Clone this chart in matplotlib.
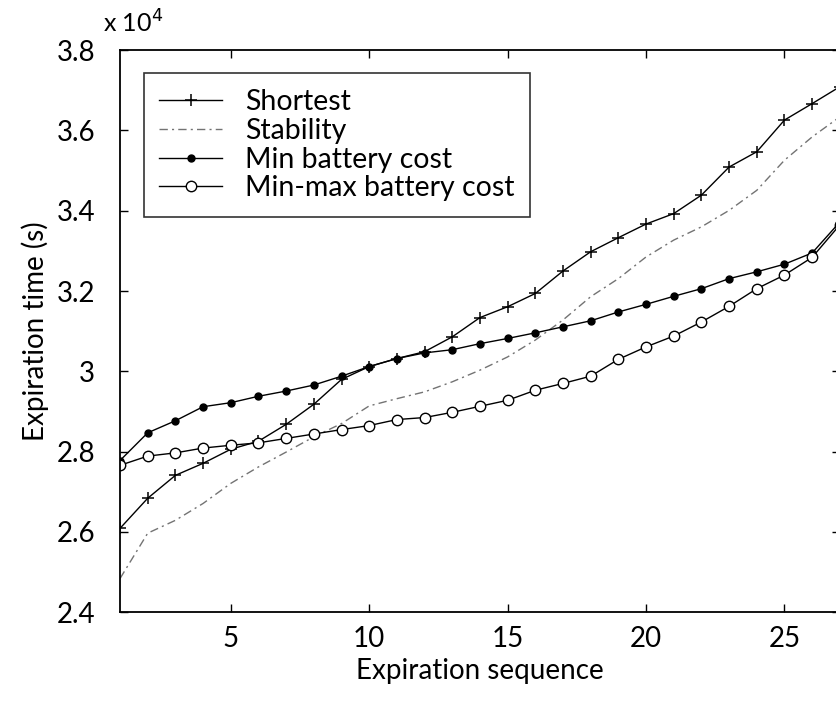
import matplotlib
matplotlib.use("Agg")
import matplotlib.pyplot as plt
from matplotlib.ticker import FormatStrFormatter

plt.rcParams['font.family'] = ['Lato', 'DejaVu Sans']

# expiration sequence index
seq = list(range(1, 28))

# expiration time, in units of 1e4 s
shortest = [2.609, 2.684, 2.741, 2.771, 2.806, 2.826, 2.868, 2.918, 2.980, 3.012,
            3.032, 3.049, 3.086, 3.134, 3.161, 3.194, 3.250, 3.298, 3.333, 3.367,
            3.393, 3.439, 3.509, 3.547, 3.626, 3.667, 3.709]
stability = [2.484, 2.597, 2.629, 2.671, 2.721, 2.762, 2.799, 2.837, 2.870, 2.914,
             2.932, 2.949, 2.974, 3.003, 3.036, 3.078, 3.128, 3.186, 3.231, 3.285,
             3.327, 3.360, 3.401, 3.451, 3.526, 3.584, 3.634]
min_batt = [2.778, 2.847, 2.877, 2.912, 2.922, 2.938, 2.951, 2.966, 2.988, 3.012,
            3.032, 3.046, 3.054, 3.069, 3.082, 3.096, 3.111, 3.126, 3.148, 3.167,
            3.187, 3.206, 3.231, 3.248, 3.267, 3.295, 3.372]
minmax_batt = [2.766, 2.789, 2.797, 2.809, 2.816, 2.822, 2.833, 2.844, 2.855, 2.865,
               2.880, 2.885, 2.898, 2.913, 2.928, 2.953, 2.970, 2.988, 3.030, 3.061,
               3.088, 3.123, 3.162, 3.206, 3.240, 3.284, 3.365]

fig = plt.figure(figsize=(8.37, 7.07), dpi=100)
# right spine sits just past the picture edge, as in the cropped original
ax = fig.add_axes([0.1434, 0.134, 0.860, 0.795])

ax.plot(seq, shortest, color='black', lw=1.0, marker='+', ms=8, mew=1.1,
        label='Shortest')
ax.plot(seq, stability, color='0.45', lw=1.0, linestyle=(0, (6, 3, 1.5, 3)),
        label='Stability')
ax.plot(seq, min_batt, color='black', lw=1.0, marker='o', ms=5,
        label='Min battery cost')
ax.plot(seq, minmax_batt, color='black', lw=1.0, marker='o', ms=7.5,
        mfc='white', mew=1.0, label='Min-max battery cost')

ax.set_xlim(1, 27)
ax.set_ylim(2.4, 3.8)
ax.set_xticks([5, 10, 15, 20, 25])
ax.set_yticks([2.4, 2.6, 2.8, 3.0, 3.2, 3.4, 3.6, 3.8])
ax.yaxis.set_major_formatter(FormatStrFormatter('%g'))
ax.tick_params(direction='in', top=True, right=True, length=6, width=1,
               labelsize=20, pad=10)
ax.tick_params(axis='y', pad=18)
for s in ax.spines.values():
    s.set_linewidth(1.3)

ax.set_xlabel('Expiration sequence', fontsize=20, labelpad=4)
ax.set_ylabel('Expiration time (s)', fontsize=20, labelpad=5)
fig.text(0.123, 0.968, r'x 10$^4$', fontsize=18, ha='left', va='center')

leg = ax.legend(loc='upper left', bbox_to_anchor=(0.033, 0.959), fontsize=20.5,
                frameon=True, fancybox=False, edgecolor='black',
                handlelength=2.2, handletextpad=0.8, labelspacing=0.1,
                borderpad=0.55, borderaxespad=0)
leg.get_frame().set_linewidth(1.2)

fig.savefig('out.png', dpi=100)
